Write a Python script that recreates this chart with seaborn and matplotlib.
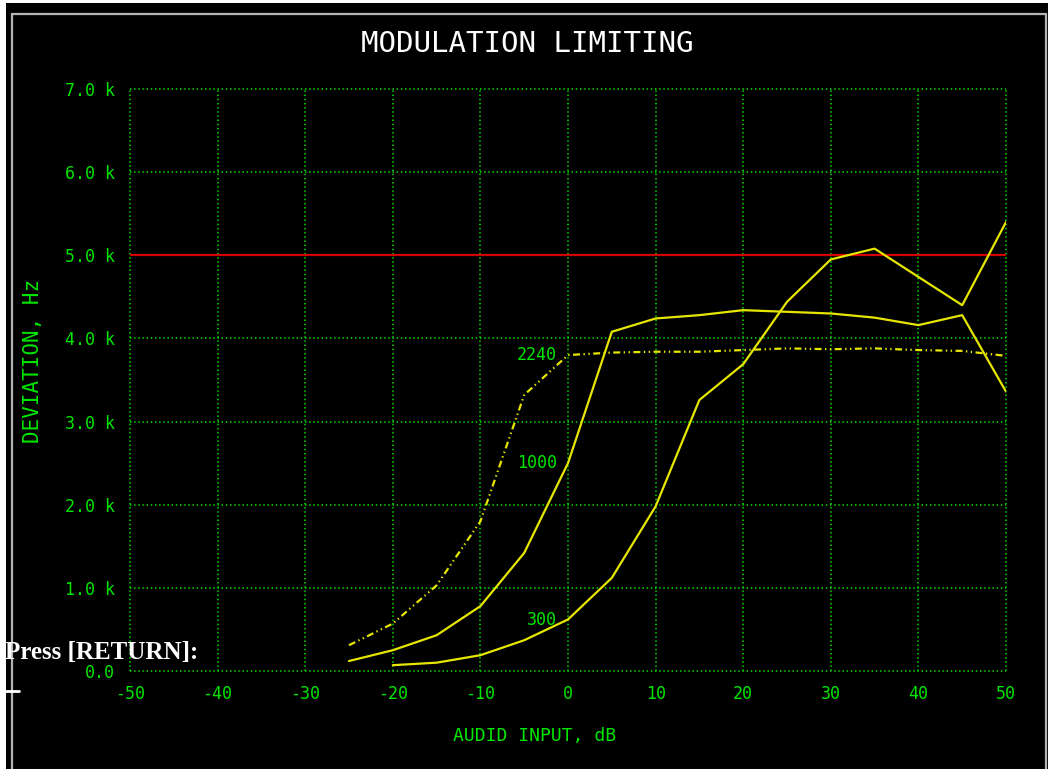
import matplotlib
matplotlib.use("Agg")
import matplotlib.pyplot as plt
import seaborn as sns
import pandas as pd
from matplotlib.patches import Rectangle
from matplotlib.lines import Line2D

# datos (desviacion en Hz)
x_300 = [-20, -15, -10, -5, 0, 5, 10, 15, 20, 25, 30, 35, 40, 45, 50]
y_300 = [70, 100, 190, 370, 620, 1120, 1980, 3260, 3690, 4440, 4950, 5080, 4740, 4400, 5400]

x_1000 = [-25, -20, -15, -10, -5, 0, 5, 10, 15, 20, 25, 30, 35, 40, 45, 50]
y_1000 = [120, 250, 430, 780, 1420, 2500, 4080, 4240, 4280, 4340, 4320, 4300, 4250, 4160, 4280, 3360]

x_2240 = [-25, -20, -15, -10, -5, 0, 5, 10, 15, 20, 25, 30, 35, 40, 45, 50]
y_2240 = [310, 570, 1030, 1800, 3320, 3800, 3830, 3840, 3840, 3860, 3880, 3870, 3880, 3860, 3850, 3790]

limite = 5000

x_ticks = [-50, -40, -30, -20, -10, 0, 10, 20, 30, 40, 50]
x_tick_labels = ["-50", "-40", "-30", "-20", "-10", "0", "10", "20", "30", "40", "50"]
y_ticks = [0, 1000, 2000, 3000, 4000, 5000, 6000, 7000]
y_tick_labels = ["0.0", "1.0 k", "2.0 k", "3.0 k", "4.0 k", "5.0 k", "6.0 k", "7.0 k"]

# tabla larga para seaborn
df = pd.concat([
    pd.DataFrame({"entrada": x_300, "desviacion": y_300, "freq": "300"}),
    pd.DataFrame({"entrada": x_1000, "desviacion": y_1000, "freq": "1000"}),
    pd.DataFrame({"entrada": x_2240, "desviacion": y_2240, "freq": "2240"}),
])

sns.set_style("dark")
plt.rcParams["font.family"] = ["DejaVu Sans Mono"]
plt.rcParams["lines.scale_dashes"] = False

verde = "#00e600"
verde_grid = "#00c800"
amarillo = "#e6e600"

W, H = 1052, 769
fig = plt.figure(figsize=(10.52, 7.69), dpi=100, facecolor="white")

# pantalla negra y marco gris
fig.add_artist(Rectangle((6 / W, 0), (1048 - 6) / W, 1 - 3 / H, transform=fig.transFigure,
                         facecolor="black", edgecolor="none", zorder=-2))
fig.add_artist(Line2D([11.5 / W, 1045.5 / W], [1 - 13.5 / H, 1 - 13.5 / H], color="#b4b4b4", lw=1.6, zorder=-1))
fig.add_artist(Line2D([11.5 / W, 11.5 / W], [0, 1 - 13.5 / H], color="#b4b4b4", lw=1.6, zorder=-1))
fig.add_artist(Line2D([1045.5 / W, 1045.5 / W], [0, 1 - 13.5 / H], color="#b4b4b4", lw=1.6, zorder=-1))

ax = fig.add_axes([130 / W, 1 - 671 / H, 876 / W, 582 / H])
ax.set_facecolor("black")

sns.lineplot(data=df, x="entrada", y="desviacion", hue="freq", style="freq",
             palette={"300": amarillo, "1000": amarillo, "2240": amarillo},
             dashes={"300": "", "1000": "", "2240": (5, 2.5, 1, 2.5, 1, 2.5)},
             linewidth=1.6, legend=False, ax=ax, zorder=3)

ax.axhline(limite, color="#d40000", lw=1.6, zorder=2)

ax.set_xlim(-50, 50)
ax.set_ylim(0, 7000)
ax.set_xticks(x_ticks)
ax.set_xticklabels(x_tick_labels)
ax.set_yticks(y_ticks)
ax.set_yticklabels(y_tick_labels)
ax.grid(True, color=verde_grid, linestyle=(0, (1, 2)), linewidth=1.3)
for gl in ax.get_xgridlines() + ax.get_ygridlines():
    gl.set_clip_on(False)
for s in ax.spines.values():
    s.set_visible(False)

ax.tick_params(axis="x", length=0, pad=10, labelsize=12, labelcolor=verde)
ax.tick_params(axis="y", length=3, color=verde_grid, pad=8, labelsize=12, labelcolor=verde)

ax.set_xlabel("AUDID INPUT, dB", color=verde, fontsize=13)
ax.xaxis.set_label_coords(0.462, -0.096)
ax.set_ylabel("DEVIATION, Hz", color=verde, fontsize=15)
ax.yaxis.set_label_coords(-0.099, 0.533)

# etiquetas de las curvas
ax.text(-1.3, 3800, "2240", ha="right", va="center", color=verde, fontsize=12)
ax.text(-1.3, 2500, "1000", ha="right", va="center", color=verde, fontsize=12)
ax.text(-1.3, 610, "300", ha="right", va="center", color=verde, fontsize=12)

fig.text(527 / W, 1 - 44 / H, "MODULATION LIMITING", ha="center", va="center", color="white", fontsize=21)

fig.text(5 / W, 1 - 652 / H, "Press [RETURN]:", ha="left", va="center", color="white",
         family="Liberation Serif", weight="bold", fontsize=18)
fig.add_artist(Line2D([5 / W, 19 / W], [1 - 691 / H, 1 - 691 / H], color="white", lw=2))

plt.savefig("out.png", dpi=100, facecolor=fig.get_facecolor())
